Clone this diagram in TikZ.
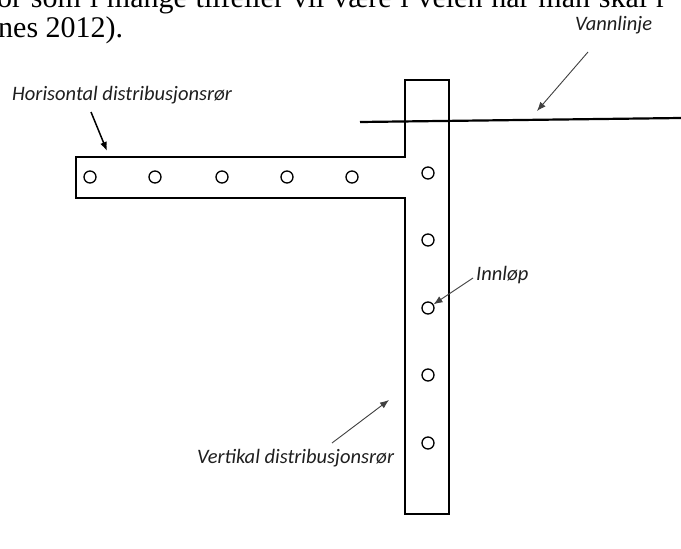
\documentclass[tikz,border=0pt]{standalone}
\usepackage{fontspec}
\setmainfont{Liberation Serif}
\newfontfamily\labelfont{Carlito}
\usetikzlibrary{arrows.meta}
\tikzset{
  pipe/.style={draw=black, line width=1.6pt, line join=miter},
  hole/.style={circle, draw=black, line width=1.3pt, minimum size=12pt, inner sep=0pt},
  lbl/.style={font=\labelfont\itshape\fontsize{20.5}{23}\selectfont, text=black!88, inner sep=0pt},
  thinarrow/.style={draw=black!75, line width=0.9pt, -{Latex[length=9pt,width=7pt]}},
  thickarrow/.style={draw=black, line width=1.5pt, -{Latex[length=9pt,width=7pt]}},
  bodytext/.style={font=\fontsize{30}{34}\selectfont, inner sep=0pt, anchor=base west}
}
\begin{document}
\begin{tikzpicture}[x=1pt,y=-1pt]
\useasboundingbox (0,0) rectangle (681,549);
\fill[white] (0,0) rectangle (681,549);
% cut-off body text
\begin{scope}
\clip (0,0) rectangle (681,549);
\node[bodytext] (line1) at (-3,7) {\spaceskip=8.8pt or som i mange tilfeller vil være i veien har man skal r};
\node[bodytext] (line2) at (-2,37) {nes 2012).};
\end{scope}
% pipes outline
\draw[pipe] (76,157) -- (405,157) -- (405,80) -- (449,80) -- (449,514) -- (405,514) -- (405,198) -- (76,198) -- cycle;
% water line
\draw[line width=2.2pt] (360,122) -- (681,118);
% holes
\foreach \x/\n in {90/h1,155/h2,222/h3,287/h4,352/h5}
  \node[hole] (\n) at (\x,177) {};
\foreach \y/\n in {173/v1,240/v2,308/v3,375/v4,443/v5}
  \node[hole] (\n) at (428,\y) {};
% labels
\node[lbl, anchor=base west] (lh) at (12,100) {Horisontal distribusjonsrør};
\node[lbl, anchor=base west] (lw) at (575,30) {Vannlinje};
\node[lbl, anchor=base west] (li) at (476,280) {Innløp};
\node[lbl, anchor=base west] (lv) at (197,463) {Vertikal distribusjonsrør};
% arrow anchor points
\coordinate (ahs) at (91,112);
\coordinate (ahe) at (107,151);
\coordinate (aws) at (588,52);
\coordinate (awe) at (537,111);
\coordinate (ais) at (473,278);
\coordinate (avs) at (332,443);
\coordinate (ave) at (389,400);
% arrows
\draw[thickarrow] (ahs) -- (ahe);
\draw[thinarrow] (aws) -- (awe);
\draw[thinarrow] (ais) -- (v3);
\draw[thinarrow] (avs) -- (ave);
\end{tikzpicture}
\end{document}
